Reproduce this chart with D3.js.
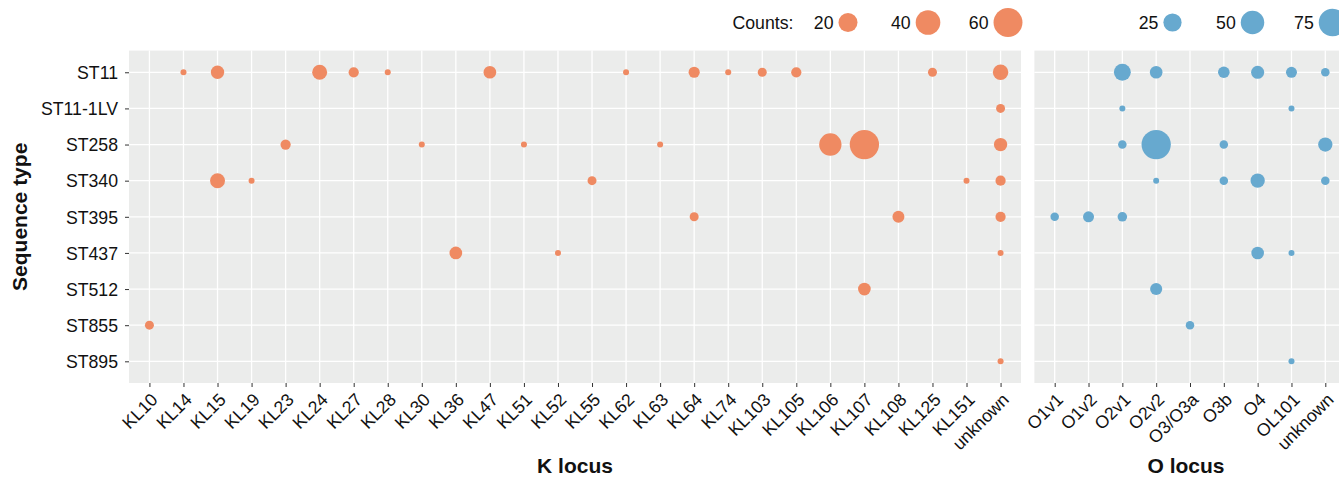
<!DOCTYPE html>
<html><head><meta charset="utf-8">
<script src="https://cdn.jsdelivr.net/npm/d3@7"></script>
<style>
body{margin:0;background:#fff}
svg{display:block}
text{font-family:"Liberation Sans",Arial,Helvetica,sans-serif;fill:#111}
</style></head>
<body><svg id="chart" width="1339" height="477"></svg>
<script>
// ---------------- data ----------------
const sequenceTypes = ["ST11","ST11-1LV","ST258","ST340","ST395","ST437","ST512","ST855","ST895"];
const kLoci = ["KL10","KL14","KL15","KL19","KL23","KL24","KL27","KL28","KL30","KL36","KL47","KL51","KL52","KL55","KL62","KL63","KL64","KL74","KL103","KL105","KL106","KL107","KL108","KL125","KL151","unknown"];
const oLoci = ["O1v1","O1v2","O2v1","O2v2","O3/O3a","O3b","O4","OL101","unknown"];

// [sequence type, K locus, count]
const kCounts = [
  ["ST11","KL14",1],["ST11","KL15",7],["ST11","KL24",10],["ST11","KL27",3],["ST11","KL28",1],
  ["ST11","KL47",6],["ST11","KL62",1],["ST11","KL64",4],["ST11","KL74",1],["ST11","KL103",2],
  ["ST11","KL105",3],["ST11","KL125",2],["ST11","unknown",11],
  ["ST11-1LV","unknown",2],
  ["ST258","KL23",3],["ST258","KL30",1],["ST258","KL51",1],["ST258","KL63",1],
  ["ST258","KL106",31],["ST258","KL107",62],["ST258","unknown",7],
  ["ST340","KL15",10],["ST340","KL19",1],["ST340","KL55",2],["ST340","KL151",1],["ST340","unknown",3],
  ["ST395","KL64",2],["ST395","KL108",5],["ST395","unknown",3],
  ["ST437","KL36",6],["ST437","KL52",1],["ST437","unknown",1],
  ["ST512","KL107",6],
  ["ST855","KL10",2],
  ["ST895","unknown",1]
];
// [sequence type, O locus, count]
const oCounts = [
  ["ST11","O2v1",20],["ST11","O2v2",8],["ST11","O3b",6],["ST11","O4",9],["ST11","OL101",5],["ST11","unknown",2],
  ["ST11-1LV","O2v1",1],["ST11-1LV","OL101",1],
  ["ST258","O2v1",2],["ST258","O2v2",88],["ST258","O3b",2],["ST258","unknown",12],
  ["ST340","O2v2",1],["ST340","O3b",2],["ST340","O4",12],["ST340","unknown",2],
  ["ST395","O1v1",2],["ST395","O1v2",5],["ST395","O2v1",3],
  ["ST437","O4",8],["ST437","OL101",1],
  ["ST512","O2v2",7],
  ["ST855","O3/O3a",2],
  ["ST895","OL101",1]
];
const kLegendValues = [20,40,60];
const oLegendValues = [25,50,75];
const kColor = "#EF8A62";
const oColor = "#67A9CF";

// ---------------- layout ----------------
const svg = d3.select("#chart");
const panelTop = 50.6, panelBottom = 383;
const kPanel = {x0:129, x1:1021};
const oPanel = {x0:1034.4, x1:1345.6};
const rMin = 3, rMax = 14.65;
const fs = "17.7px";

const y = d3.scalePoint().domain(sequenceTypes).range([panelTop,panelBottom]).padding(0.6);
const xK = d3.scalePoint().domain(kLoci).range([kPanel.x0,kPanel.x1]).padding(0.6);
const xO = d3.scalePoint().domain(oLoci).range([oPanel.x0,oPanel.x1]).padding(0.6);

function sizeScale(data){
  const ext = d3.extent(data, d=>d[2]);
  const s = d3.scaleSqrt().domain([0, ext[1]-ext[0]]).range([0, rMax-rMin]);
  return v => rMin + s(Math.max(0, v-ext[0]));
}
const rK = sizeScale(kCounts);
const rO = sizeScale(oCounts);

function panel(x, p, data, r, color, title, titleX){
  const g = svg.append("g");
  g.append("rect").attr("x",p.x0).attr("y",panelTop).attr("width",p.x1-p.x0).attr("height",panelBottom-panelTop).attr("fill","#EBECEB");
  g.selectAll("line.gx").data(x.domain()).join("line").attr("class","gx")
    .attr("x1",d=>x(d)).attr("x2",d=>x(d)).attr("y1",panelTop).attr("y2",panelBottom)
    .attr("stroke","#fff").attr("stroke-width",1.3);
  g.selectAll("line.gy").data(y.domain()).join("line").attr("class","gy")
    .attr("x1",p.x0).attr("x2",p.x1).attr("y1",d=>y(d)).attr("y2",d=>y(d))
    .attr("stroke","#fff").attr("stroke-width",1.3);
  g.selectAll("circle").data(data).join("circle")
    .attr("cx",d=>x(d[1])).attr("cy",d=>y(d[0])).attr("r",d=>r(d[2])).attr("fill",color);
  const ax = g.append("g").attr("transform",`translate(0,${panelBottom})`)
    .call(d3.axisBottom(x).tickSize(4).tickSizeOuter(0));
  ax.select(".domain").remove();
  ax.selectAll(".tick line").attr("stroke","#333").attr("stroke-width",1);
  ax.selectAll(".tick text")
    .attr("font-size",fs).attr("fill","#111")
    .attr("text-anchor","end").attr("y",0).attr("dy","0.71em")
    .attr("transform","translate(0,9) rotate(-45)");
  svg.append("text").attr("x",titleX).attr("y",473)
    .attr("text-anchor","middle").attr("font-weight","bold").attr("font-size","21px").text(title);
}
panel(xK, kPanel, kCounts, rK, kColor, "K locus", (kPanel.x0+kPanel.x1)/2);
panel(xO, oPanel, oCounts, rO, oColor, "O locus", (oPanel.x0+oPanel.x1)/2 - 4);

// y axis
const ay = svg.append("g").attr("transform",`translate(${kPanel.x0},0)`)
  .call(d3.axisLeft(y).tickSize(4).tickSizeOuter(0).tickPadding(7));
ay.select(".domain").remove();
ay.selectAll(".tick line").attr("stroke","#333");
ay.selectAll(".tick text").attr("font-size",fs).attr("fill","#111").attr("dy","0.35em");
svg.append("text").attr("transform",`translate(27,${(panelTop+panelBottom)/2}) rotate(-90)`)
  .attr("text-anchor","middle").attr("font-weight","bold").attr("font-size","21px").text("Sequence type");

// legends
const legY = 22.5;
svg.append("text").attr("x",732.5).attr("y",29).attr("font-size",fs).text("Counts:");
function legend(values, r, color, startX){
  values.forEach((v,i)=>{
    const cx = startX + 80*i;
    svg.append("circle").attr("cx",cx).attr("cy",legY).attr("r",r(v)).attr("fill",color);
    svg.append("text").attr("x",cx - r(v) - 5).attr("y",29).attr("text-anchor","end")
      .attr("font-size",fs).text(v);
  });
}
legend(kLegendValues, rK, kColor, 848);
legend(oLegendValues, rO, oColor, 1172.5);
</script></body></html>
